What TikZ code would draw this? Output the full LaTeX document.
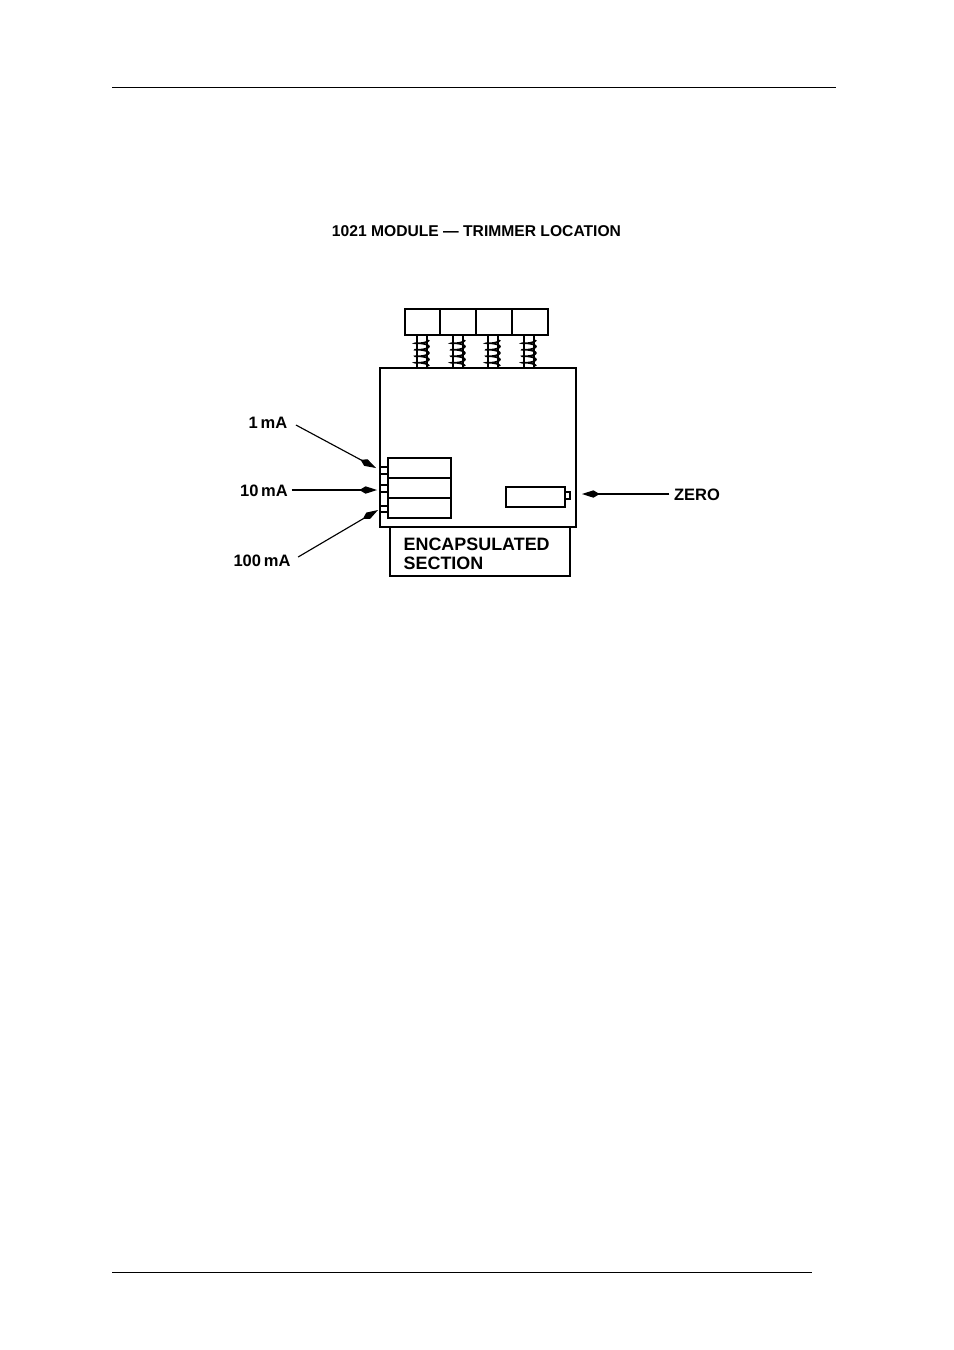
\documentclass[tikz,border=0pt]{standalone}
\usepackage{fontspec}
\setmainfont{Liberation Sans}
\usetikzlibrary{arrows.meta}

\tikzset{
	tag/.style={font=\bfseries\fontsize{9.4}{9.4}\selectfont, inner sep=0pt},
	pointer/.style={line width=0.65pt, -{Kite[length=10pt, width=4.2pt, inset=3.5pt]}},
}

\begin{document}
\begin{tikzpicture}[x=0.02cm, y=-0.02cm, line width=0.75pt]
	\useasboundingbox (0,0) rectangle (954,1350);
	\draw [line width=0.45pt] (112,87) -- (836,87);
	\draw [line width=0.45pt] (112,1272) -- (812,1272);

	\node [font=\bfseries\fontsize{8.9}{8.9}\selectfont, inner sep=0pt] (title) at (476.5,231) {1021 MODULE --- TRIMMER LOCATION};

	% knobs and their springs
	\draw (405,309) rectangle (548,335);
	\foreach \xa in {440,476,512}
		\draw (\xa,309) -- (\xa,335);
	\foreach \xb in {422,458,493,529} {
		\draw (\xb-5,335) -- (\xb-5,368);
		\draw (\xb+5,335) -- (\xb+5,368);
		\draw [line width=0.9pt, domain=0:1440, samples=90] plot [smooth] ({\xb+7*cos(\x)}, {340+\x/1440*26+1.3*sin(\x)});
	}

	% module body
	\draw (380,368) rectangle (576,527);
	\draw (388,458) rectangle (451,518);
	\draw (388,478) -- (451,478);
	\draw (388,498) -- (452,498);
	\foreach \ya in {467,474,485,492,506,512}
		\draw (380,\ya) -- (388,\ya);
	\draw (506,487) rectangle (565,507);
	\draw (565,492) rectangle (570,499);

	\draw (390,527) -- (390,576) -- (570,576) -- (570,527);
	\node [font=\bfseries\fontsize{10.2}{11.2}\selectfont, align=left, inner sep=0pt, anchor=north west] (section) at (403,537) {ENCAPSULATED\\SECTION};

	% trimmer labels
	\node [tag] (one) at (268,423) {1\,mA};
	\node [tag] (ten) at (264,491) {10\,mA};
	\node [tag] (hundred) at (262,561) {100\,mA};
	\node [tag] (zero) at (697,495) {ZERO};
	\coordinate (onetip) at (376,468);
	\coordinate (tentip) at (377,490);
	\coordinate (hundredtip) at (378,510);
	\coordinate (zerotip) at (582,494);
	\draw [pointer] (one.east) ++(8,2) -- (onetip);
	\draw [pointer] (ten.east) ++(3,-1) -- (tentip);
	\draw [pointer] (hundred.east) ++(7,-4) -- (hundredtip);
	\draw [pointer] (zero.west) ++(-4,-1) -- (zerotip);
\end{tikzpicture}
\end{document}
